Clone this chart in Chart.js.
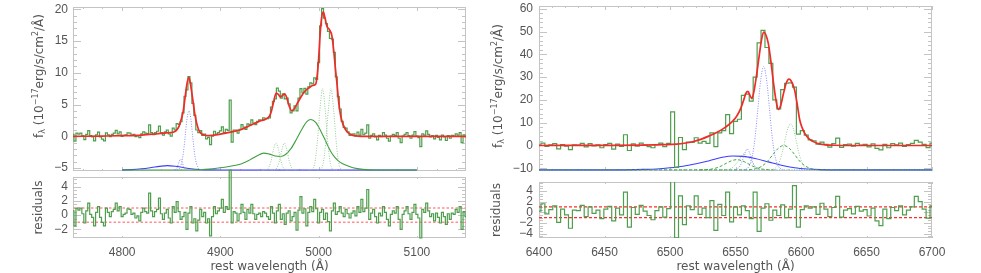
<!DOCTYPE html>
<html>
<head>
<meta charset="utf-8">
<script src="https://cdn.jsdelivr.net/npm/chart.js@4.4.1/dist/chart.umd.min.js"></script>
<style>
  html, body { margin: 0; padding: 0; background: #fff; }
  #wrap { position: relative; width: 981px; height: 273px; overflow: hidden; }
  canvas { position: absolute; }
</style>
</head>
<body>
<div id="wrap">
  <canvas id="hbFluxChart" width="490" height="175" style="left:0;top:0"></canvas>
  <canvas id="haFluxChart" width="491" height="175" style="left:490px;top:0"></canvas>
  <canvas id="hbResidChart" width="490" height="108" style="left:0;top:165px"></canvas>
  <canvas id="haResidChart" width="491" height="108" style="left:490px;top:165px"></canvas>
</div>
<script>
// ---- axis ranges and tick labels ----
const hbWaveRange = [4750, 5150];
const haWaveRange = [6400, 6700];
const hbFluxRange = [-5.45, 20.35];
const haFluxRange = [-11.2, 61.2];
const hbResidRange = [-3.2, 5.35];
const haResidRange = [-4.83, 5.69];
const hbWaveTicks = [4800, 4900, 5000, 5100];
const haWaveTicks = [6400, 6450, 6500, 6550, 6600, 6650, 6700];
const hbFluxTicks = [-5, 0, 5, 10, 15, 20];
const haFluxTicks = [-10, 0, 10, 20, 30, 40, 50, 60];
const hbResidTicks = [-2, 0, 2, 4];
const haResidTicks = [-4, -2, 0, 2, 4];
const residLevels = [1, -1];

// ---- observed spectra (histogram bins) ----
const hbWaveStart = 4750, hbWaveStep = 2;
const hbFlux = [
  0.3, -0.75, 0.5, 0.35, 0.5, 0.1, -0.5, 0.3, 0.9, 0.1,
  -0.1, -0.7, 0.25, 0.65, -0.1, -0.45, -0.7, 0.55, 0.25, -0.05,
  0.3, 0.5, 0.95, 0.4, 0.7, 0.0, 0.15, 0.25, 0.55, 0.5,
  0.2, 0.3, -0.05, 0.1, -0.2, 0.4, 0.7, 0.5, 0.45, 1.8,
  0.6, 0.25, 0.6, 0.8, 1.6, 0.6, 0.2, 0.7, 1.0, 0.4,
  0.05, 1.3, 1.0, 2.0, 1.9, 2.3, 3.7, 6.3, 7.3, 9.4,
  8.4, 5.2, 3.3, 1.0, 0.6, 0.9, 0.15, 0.35, -0.4, -0.15,
  -1.3, 0.05, 0.8, 0.35, 0.6, 0.85, 1.5, 0.6, 1.1, 0.95,
  5.7, -0.9, 1.0, 1.0, 0.5, 1.1, 1.85, 1.45, 1.1, 1.95,
  1.85, 2.6, 2.1, 1.85, 2.35, 2.6, 2.5, 2.9, 2.85, 2.8,
  2.9, 4.6, 5.5, 5.9, 7.6, 7.1, 6.0, 6.7, 5.9, 6.0,
  5.1, 3.7, 4.0, 4.8, 4.0, 6.0, 7.5, 6.85, 7.55, 6.65,
  7.8, 8.4, 8.25, 9.2, 8.95, 11.6, 17.4, 20.1, 18.6, 17.75,
  16.5, 15.4, 15.3, 13.2, 9.35, 6.25, 4.3, 2.35, 1.4, 1.3,
  0.7, 0.15, 0.35, 0.4, 0.05, 0.65, 0.2, 1.1, 0.25, 0.5,
  1.8, -0.3, 0.15, 0.4, -0.1, -0.55, 0.15, -0.05, 0.6, 0.2,
  -0.3, -0.75, 0.05, 0.3, 0.15, 0.6, -0.3, -1.0, 0.05, 0.3,
  0.6, 0.1, -0.3, 0.2, 0.75, 0.05, -0.2, -1.6, 0.4, 0.2,
  0.85, 0.3, -0.1, 0.1, -0.4, 0.15, -0.15, -0.55, 0.2, -0.1,
  -0.65, 0.1, -0.3, 0.15, 0.05, 0.4, 0.2, 0.6, -1.0, 0.25,
  -0.1
];
const hbResid = [
  0.6, -1.5, 1.0, 0.7, 1.0, 0.2, -1.1, 0.6, 1.7, 0.1,
  -0.3, -1.5, 0.4, 1.2, -0.3, -1.0, -1.5, 1.0, 0.4, -0.2,
  0.5, 0.8, 1.7, 0.6, 1.2, -0.2, 0.1, 0.3, 0.9, 0.8,
  0.1, 0.3, -0.4, -0.1, -0.8, 0.4, 1.0, 0.5, 0.3, 3.1,
  0.6, -0.2, 0.5, 0.8, 2.4, 0.2, -0.6, 0.3, 0.8, -0.4,
  -1.1, 1.2, 0.4, 1.9, 0.5, -0.6, -0.2, 0.4, -2.0, 0.3,
  1.2, -1.1, -0.5, -2.2, -0.7, 0.8, -0.2, 0.4, -1.1, -0.5,
  -2.9, -0.2, 1.2, 0.2, 0.6, 1.0, 2.2, 0.4, 1.2, 0.8,
  6.3, -1.1, 0.5, 0.3, -0.8, 0.2, 1.5, 0.4, -0.6, 0.8,
  0.3, 1.5, 0.2, -0.6, 0.1, 0.3, -0.2, 0.5, 0.3, -0.2,
  -0.6, 1.2, 0.3, -1.1, 0.6, 1.5, -0.6, 0.2, -1.3, 0.3,
  0.6, -0.8, -0.2, 0.4, -2.1, 0.7, 2.6, 0.3, 0.9, -1.5,
  0.4, 1.2, 0.5, 2.2, 0.9, -1.1, 0.4, 0.8, -0.6, 0.3,
  -0.9, -2.2, 0.6, 1.7, 0.1, 0.5, 1.2, 0.3, -0.2, 0.8,
  0.2, -0.4, 0.3, 0.6, -0.1, 1.2, 0.4, 2.2, 0.5, 1.0,
  3.6, -0.6, 0.3, 0.8, -0.2, -1.1, 0.3, -0.1, 1.2, 0.4,
  -0.6, -1.5, 0.1, 0.6, 0.3, 1.2, -0.6, -2.0, 0.1, 0.6,
  1.2, 0.2, -0.6, 0.4, 1.5, 0.1, -0.4, -3.2, 0.8, 0.4,
  1.7, 0.6, -0.2, 0.2, -0.8, 0.3, -0.3, -1.1, 0.4, -0.2,
  -1.3, 0.2, -0.6, 0.3, 0.1, 0.8, 0.4, 1.2, -2.0, 0.5,
  -0.2
];

const haWaveStart = 6400, haWaveStep = 3;
const haFlux = [
  0.2, 1.0, -0.4, 0.3, 0.8, -1.5, 0.4, -0.3, -1.8, 0.3,
  0.2, 0.9, -0.6, 0.8, -0.2, 0.3, -1.0, 0.4, 0.9, -1.6,
  0.6, -0.4, 4.7, -2.2, 0.7, -0.3, 1.0, 0.2, -0.5, -1.0,
  0.4, 1.0, -0.5, 0.9, 14.7, -9.6, 3.5, -1.8, 1.5, 1.4,
  3.4, 1.0, 1.8, 0.9, 5.5, -0.5, 5.5, 6.5, 13.5, 5.2,
  10.6, 11.5, 22.0, 22.5, 19.5, 30.0, 45.0, 50.5, 43.0, 36.0,
  20.0, 16.0, 24.5, 27.3, 27.5, 25.6, 5.0, 6.5, 4.5, 2.5,
  2.0, 0.6, 1.5, 0.5, -0.7, 0.8, 3.2, -0.8, 0.4, 0.6,
  -0.3, 0.9, 0.2, 0.5, -0.6, 0.7, -1.3, -1.9, 0.5, -1.0,
  0.8, 0.3, 1.0, -0.4, 0.4, 0.9, 2.2, 1.5, 0.5, -0.9,
  1.0
];
const haResid = [
  0.2, 1.6, -0.3, 0.5, 1.2, -1.9, 0.6, -0.5, -3.0, 0.4,
  0.3, 1.3, -0.8, 1.0, -0.2, 0.4, -1.2, 0.6, 1.1, -1.6,
  0.8, -0.5, 3.8, -2.8, 0.9, -0.4, 1.3, 0.2, -0.6, -1.4,
  0.3, 1.0, -0.9, 0.7, 6.0, -4.8, 3.1, -2.3, 1.2, 0.5,
  3.1, -0.4, 0.8, -1.0, 2.2, -3.4, 1.5, -0.6, 3.8, -1.8,
  1.0, -0.5, 1.2, 0.3, -1.2, 3.8, -3.6, 0.8, 1.6, -1.5,
  0.4, -0.6, 1.4, -1.0, 0.6, 5.0, -2.8, 0.5, 1.2, 0.8,
  1.0, -0.4, 1.7, 0.6, -0.8, 0.9, 3.0, -0.9, 0.4, 0.7,
  -0.3, 1.1, 0.2, 0.5, -0.7, 0.8, -1.6, -2.5, 0.6, -1.2,
  0.9, 0.3, 1.2, -0.5, 0.4, 1.0, 3.0, 2.0, 0.6, -1.1,
  1.2
];

// ---- total model (red) ----
const hbModelWave = [4750, 4780, 4800, 4820, 4835, 4845, 4852, 4855, 4858, 4860, 4862, 4864, 4866, 4868, 4870, 4872, 4874, 4876, 4878, 4880, 4883, 4888, 4900, 4913, 4920, 4930, 4940, 4946, 4950, 4952, 4954, 4956.8, 4959, 4961, 4963, 4965.5, 4967.5, 4969.5, 4972.5, 4975, 4978, 4982, 4986, 4990, 4994, 4997, 4998.5, 5000, 5001.5, 5003, 5004.8, 5006.5, 5008.5, 5011, 5013.5, 5015.5, 5017, 5019, 5020.5, 5022.5, 5025, 5028.5, 5033, 5040, 5060, 5150];
const hbModelFlux = [0, 0.05, 0.1, 0.2, 0.4, 0.55, 0.65, 0.9, 1.6, 2.6, 3.8, 6.0, 8.3, 9.3, 7.8, 5.7, 3.5, 2.0, 1.0, 0.5, 0.22, 0.1, 0.35, 0.75, 1.0, 1.7, 2.4, 2.7, 3.2, 4.0, 5.3, 6.8, 6.6, 6.2, 6.4, 6.7, 6.1, 5.0, 4.05, 4.3, 5.1, 6.2, 7.1, 7.6, 8.0, 8.2, 9.5, 12.2, 16.0, 18.6, 19.6, 18.6, 17.3, 16.8, 15.8, 13.3, 10.8, 7.8, 5.3, 3.2, 1.8, 0.8, 0.25, 0.05, 0, 0];

const haModelWave = [6400, 6450, 6480, 6495, 6505, 6512, 6518, 6524, 6530, 6536, 6541, 6545, 6548, 6551, 6554, 6556, 6558, 6559.5, 6561, 6562.5, 6564, 6566, 6568, 6570, 6571.5, 6573, 6575, 6577, 6579, 6581, 6582.7, 6584.5, 6586.5, 6588.5, 6590.8, 6592.5, 6595, 6597, 6599, 6601, 6603, 6606, 6609, 6613, 6618, 6625, 6640, 6700];
const haModelFlux = [0, 0.05, 0.15, 0.35, 0.6, 1.1, 1.75, 2.8, 4.2, 5.8, 7.5, 9.2, 10.8, 12.9, 16.3, 19.5, 23.0, 23.7, 22.0, 20.6, 23.5, 30.5, 39.0, 46.8, 49.8, 48.8, 44.9, 37.0, 27.5, 19.5, 15.8, 17.5, 22.5, 27.0, 29.1, 28.3, 24.6, 18.5, 11.3, 7.6, 5.2, 3.0, 1.8, 0.8, 0.3, 0.1, 0, 0];

// ---- Hbeta / [OIII] components (drawn shifted to the panel floor) ----
const hbCompOffset = -5.3;
const hbBroadWave = [4800, 4810, 4820, 4830, 4838, 4846, 4854, 4862, 4870, 4880, 4890, 4900, 5100];
const hbBroadFlux = [0.02, 0.07, 0.2, 0.4, 0.58, 0.7, 0.6, 0.4, 0.2, 0.07, 0.02, 0, 0];
const hbNarrowWave = [4853, 4856, 4859, 4862, 4864, 4866, 4868, 4870, 4872, 4874, 4877, 4880, 4883];
const hbNarrowFlux = [0, 0.04, 0.41, 2.3, 5.0, 8.0, 9.3, 8.0, 5.0, 2.3, 0.41, 0.04, 0];
const hbNarrow2Wave = [4854, 4856, 4858, 4859.5, 4861, 4863, 4865];
const hbNarrow2Flux = [0, 0.37, 1.3, 1.7, 1.3, 0.37, 0];
const oiiiWingWave = [4800, 4870, 4885, 4900, 4910, 4920, 4930, 4938, 4944, 4950, 4956, 4961, 4966, 4972, 4978, 4984, 4988, 4992, 4997, 5002, 5007, 5012, 5017, 5022, 5028, 5035, 5045, 5060, 5100];
const oiiiWingFlux = [0, 0, 0.1, 0.35, 0.6, 0.9, 1.6, 2.3, 2.66, 2.5, 2.2, 2.13, 2.4, 3.4, 5.0, 6.7, 7.6, 7.95, 7.5, 6.2, 4.6, 3.0, 1.9, 1.2, 0.75, 0.35, 0.1, 0, 0];
const oiii4959aWave = [4943, 4946, 4949, 4951.5, 4954, 4956.6, 4959.2, 4961.7, 4964.2, 4967.2, 4970];
const oiii4959aFlux = [0, 0.03, 0.34, 1.37, 3.2, 4.25, 3.2, 1.37, 0.34, 0.03, 0];
const oiii4959bWave = [4952, 4955, 4957.5, 4960, 4962.6, 4965.1, 4967.6, 4970.2, 4972.7, 4975.2, 4978];
const oiii4959bFlux = [0, 0.05, 0.34, 1.37, 3.2, 4.25, 3.2, 1.37, 0.34, 0.05, 0];
const oiii5007aWave = [4990, 4993, 4996, 4998.5, 5001.4, 5004, 5006.6, 5009.5, 5012, 5015, 5018];
const oiii5007aFlux = [0, 0.1, 1.0, 4.1, 9.6, 12.8, 9.6, 4.1, 1.0, 0.1, 0];
const oiii5007bWave = [4998.6, 5001.6, 5004.6, 5007.1, 5010, 5012.6, 5015.2, 5018.1, 5020.6, 5023.6, 5026.6];
const oiii5007bFlux = [0, 0.1, 1.0, 4.1, 9.6, 12.8, 9.6, 4.1, 1.0, 0.1, 0];

// ---- Halpha / [NII] components ----
const haCompOffset = -10.7;
const haContWave = [6400, 6700];
const haContFlux = [0, 0];
const haBroadWave = [6400, 6460, 6480, 6490, 6500, 6510, 6520, 6530, 6540, 6548, 6556, 6565, 6575, 6585, 6595, 6605, 6615, 6630, 6700];
const haBroadFlux = [0, 0, 0.2, 0.4, 0.9, 1.6, 2.7, 4.0, 5.5, 6.1, 5.9, 5.0, 3.5, 2.0, 0.9, 0.35, 0.1, 0, 0];
const haNarrowWave = [6556, 6560, 6563, 6565, 6567, 6569, 6571.5, 6574, 6576, 6578, 6580, 6583, 6587];
const haNarrowFlux = [0, 1.3, 6.5, 14.5, 26.3, 38.3, 45.4, 38.3, 26.3, 14.5, 6.5, 1.3, 0];
const haNarrow2Wave = [6550, 6553, 6555, 6557, 6559, 6561, 6563, 6565, 6568];
const haNarrow2Flux = [0, 1.3, 3.7, 7.2, 9.1, 7.2, 3.7, 1.3, 0];
const nii6583Wave = [6577, 6580, 6583, 6586, 6588, 6590, 6592, 6594, 6596, 6598, 6601, 6604, 6607];
const nii6583Flux = [0, 0.6, 2.8, 8.3, 13.6, 18.3, 20.2, 18.3, 13.6, 8.3, 2.8, 0.6, 0];
const nii6548Wave = [6542, 6545, 6548, 6551, 6553, 6555, 6557, 6559, 6561, 6564, 6567, 6571];
const nii6548Flux = [0, 0.25, 1.1, 3.0, 4.6, 6.5, 7.0, 6.0, 4.6, 2.1, 0.6, 0];
const nii6583WingWave = [6400, 6558, 6562, 6566, 6570, 6574, 6578, 6582, 6586.8, 6591, 6595, 6599, 6603, 6607, 6612, 6616, 6700];
const nii6583WingFlux = [0, 0, 0.15, 0.55, 1.55, 3.5, 6.3, 9.1, 10.7, 9.5, 6.8, 3.8, 1.8, 0.65, 0.1, 0, 0];
const nii6548WingWave = [6523, 6527, 6531, 6535, 6539, 6543, 6547, 6551, 6555, 6559, 6563, 6567, 6571, 6575, 6579];
const nii6548WingFlux = [0, 0.1, 0.28, 0.77, 1.66, 2.9, 4.0, 4.5, 4.0, 2.9, 1.66, 0.77, 0.28, 0.1, 0];

// ---- helpers ----
const TXT = '#555555';
const TICK_FONT = { family: '"Liberation Sans", Arial, sans-serif', size: 12 };
const TITLE_FAMILY = '"DejaVu Sans", sans-serif';

function xy(wave, vals, off) {
  return wave.map((w, i) => ({ x: w, y: vals[i] + (off || 0) }));
}
function bins(start, step, vals) {
  return vals.map((v, i) => ({ x: start + i * step, y: v }));
}
function flat(range, level) {
  return [{ x: range[0], y: level }, { x: range[1], y: level }];
}
function line(data, color, width, extra) {
  return Object.assign({ data, borderColor: color, borderWidth: width, pointRadius: 0, fill: false, tension: 0 }, extra || {});
}
function fmtTick(v) {
  return v < 0 ? '\u2212' + Math.abs(v) : String(v);
}

const smooth = { cubicInterpolationMode: 'monotone' };
const dotted = { borderDash: [1, 1.5], cubicInterpolationMode: 'monotone' };
const dashed = { borderDash: [3, 2], cubicInterpolationMode: 'monotone' };
const hist = { stepped: 'middle' };

function drawRuns(ctx, runs, cx, cy, rotate) {
  ctx.save();
  ctx.translate(cx, cy);
  if (rotate) ctx.rotate(-Math.PI / 2);
  let total = 0;
  runs.forEach(r => {
    ctx.font = (r.size || 12) + 'px ' + TITLE_FAMILY;
    r.w = ctx.measureText(r.t).width;
    total += r.w;
  });
  let x = -total / 2;
  ctx.fillStyle = TXT;
  ctx.textBaseline = 'middle';
  runs.forEach(r => {
    ctx.font = (r.size || 12) + 'px ' + TITLE_FAMILY;
    ctx.fillText(r.t, x, r.dy || 0);
    x += r.w;
  });
  ctx.restore();
}

// IDL-like box with inward ticks on all four sides
const idlFrame = {
  id: 'idlFrame',
  beforeDatasetsDraw(chart, args, o) {
    const { ctx, chartArea: a, scales } = chart;
    const sx = scales.x, sy = scales.y;
    ctx.save();
    ctx.strokeStyle = '#c4c4c4';
    ctx.lineWidth = 1;
    ctx.strokeRect(a.left + 0.5, a.top + 0.5, a.width - 1, a.height - 1);
    ctx.beginPath();
    const vTick = (v, len) => {
      const p = Math.round(sx.getPixelForValue(v)) + 0.5;
      ctx.moveTo(p, a.bottom); ctx.lineTo(p, a.bottom - len);
      ctx.moveTo(p, a.top); ctx.lineTo(p, a.top + len);
    };
    const hTick = (v, len) => {
      const p = Math.round(sy.getPixelForValue(v)) + 0.5;
      ctx.moveTo(a.left, p); ctx.lineTo(a.left + len, p);
      ctx.moveTo(a.right, p); ctx.lineTo(a.right - len, p);
    };
    for (let v = Math.ceil(sx.min / o.xMinor) * o.xMinor; v <= sx.max; v += o.xMinor) vTick(v, o.xLen / 2);
    for (let v = Math.ceil(sy.min / o.yMinor) * o.yMinor; v <= sy.max + 1e-9; v += o.yMinor) hTick(v, o.yLen / 2);
    o.xMajor.forEach(v => vTick(v, o.xLen));
    o.yMajor.forEach(v => hTick(v, o.yLen));
    ctx.stroke();
    ctx.restore();
  }
};

const idlTitles = {
  id: 'idlTitles',
  afterDraw(chart, args, o) {
    const { ctx, chartArea: a } = chart;
    if (o.y) drawRuns(ctx, o.y.runs, o.y.x, o.y.cy != null ? o.y.cy : (a.top + a.bottom) / 2, true);
    if (o.x) drawRuns(ctx, [{ t: o.x.text }], (a.left + a.right) / 2, o.x.y, false);
  }
};

function makePanel(id, p) {
  return new Chart(document.getElementById(id), {
    type: 'line',
    data: { datasets: p.datasets },
    options: {
      responsive: false,
      animation: false,
      events: [],
      layout: { autoPadding: false, padding: p.pad },
      plugins: {
        legend: { display: false },
        tooltip: { enabled: false },
        idlFrame: { xMajor: p.xTicks, yMajor: p.yTicks, xMinor: p.xMinor, yMinor: p.yMinor, xLen: p.xLen, yLen: 8 },
        idlTitles: { y: p.yTitle, x: p.xTitle }
      },
      scales: {
        x: {
          type: 'linear', min: p.xRange[0], max: p.xRange[1], display: p.showX,
          grid: { display: false, drawTicks: false }, border: { display: false },
          ticks: { font: TICK_FONT, color: TXT, padding: 7, maxRotation: 0, autoSkip: false, callback: fmtTick },
          afterBuildTicks: s => { s.ticks = p.xTicks.map(v => ({ value: v })); },
          afterFit: s => { s.height = p.showX ? 35 : 0; s.paddingLeft = 0; s.paddingRight = 0; }
        },
        y: {
          type: 'linear', min: p.yRange[0], max: p.yRange[1],
          grid: { display: false, drawTicks: false }, border: { display: false },
          ticks: { font: TICK_FONT, color: TXT, padding: p.yPad, autoSkip: false, callback: fmtTick },
          afterBuildTicks: s => { s.ticks = p.yTicks.map(v => ({ value: v })); },
          afterFit: s => { s.width = p.yWidth; s.paddingTop = 0; s.paddingBottom = 0; }
        }
      }
    },
    plugins: [idlFrame, idlTitles]
  });
}

const fluxTitle = [
  { t: 'f' }, { t: '\u03bb', size: 8, dy: 3 }, { t: ' (10' }, { t: '\u221217', size: 8, dy: -4 },
  { t: 'erg/s/cm' }, { t: '2', size: 8, dy: -4 }, { t: '/\u00c5)' }
];
const residTitle = [{ t: 'residuals' }];
const waveTitle = 'rest wavelength (\u00c5)';

const GREEN = '#4e9e4e';
const RED = '#f22a2a';

// ---- H-beta / [OIII] panel ----
makePanel('hbFluxChart', {
  pad: { left: 0, right: 24, top: 7, bottom: 4 },
  xRange: hbWaveRange, yRange: hbFluxRange, xTicks: hbWaveTicks, yTicks: hbFluxTicks,
  xMinor: 20, yMinor: 1, xLen: 4, yWidth: 73, yPad: 5, showX: false,
  yTitle: { runs: fluxTitle, x: 40, cy: 76 },
  datasets: [
    line(xy(hbModelWave, hbModelFlux), RED, 1.7, smooth),
    line(bins(hbWaveStart, hbWaveStep, hbFlux), GREEN, 1.2, hist),
    line(xy(oiii5007aWave, oiii5007aFlux, hbCompOffset), '#93cc93', 1, dotted),
    line(xy(oiii5007bWave, oiii5007bFlux, hbCompOffset), '#93cc93', 1, dotted),
    line(xy(oiii4959aWave, oiii4959aFlux, hbCompOffset), '#93cc93', 1, dotted),
    line(xy(oiii4959bWave, oiii4959bFlux, hbCompOffset), '#93cc93', 1, dotted),
    line(xy(hbNarrowWave, hbNarrowFlux, hbCompOffset), '#8a8aff', 1, dotted),
    line(xy(hbNarrow2Wave, hbNarrow2Flux, hbCompOffset), '#8a8aff', 1, dotted),
    line(xy(oiiiWingWave, oiiiWingFlux, hbCompOffset), '#3f9f3f', 1.1, smooth),
    line(xy(hbBroadWave, hbBroadFlux, hbCompOffset), '#3c3cff', 1.1, smooth)
  ]
});

makePanel('hbResidChart', {
  pad: { left: 0, right: 24, top: 12, bottom: 0 },
  xRange: hbWaveRange, yRange: hbResidRange, xTicks: hbWaveTicks, yTicks: hbResidTicks,
  xMinor: 20, yMinor: 0.5, xLen: 2, yWidth: 73, yPad: 5, showX: true,
  yTitle: { runs: residTitle, x: 39 },
  xTitle: { text: waveTitle, y: 102 },
  datasets: [
    line(bins(hbWaveStart, hbWaveStep, hbResid), GREEN, 1.2, Object.assign({ clip: false }, hist)),
    line(flat(hbWaveRange, residLevels[0]), '#ff8f8f', 1.6, { borderDash: [2.5, 2] }),
    line(flat(hbWaveRange, residLevels[1]), '#ff8f8f', 1.6, { borderDash: [2.5, 2] })
  ]
});

// ---- H-alpha / [NII] panel ----
makePanel('haFluxChart', {
  pad: { left: 0, right: 49, top: 6, bottom: 4 },
  xRange: haWaveRange, yRange: haFluxRange, xTicks: haWaveTicks, yTicks: haFluxTicks,
  xMinor: 10, yMinor: 2, xLen: 4, yWidth: 49, yPad: 6, showX: false,
  yTitle: { runs: fluxTitle, x: 9, cy: 86 },
  datasets: [
    line(xy(haModelWave, haModelFlux), RED, 1.7, smooth),
    line(bins(haWaveStart, haWaveStep, haFlux), GREEN, 1.2, hist),
    line(xy(haNarrowWave, haNarrowFlux, haCompOffset), '#8a8aff', 1, dotted),
    line(xy(haNarrow2Wave, haNarrow2Flux, haCompOffset), '#8a8aff', 1, dotted),
    line(xy(nii6583Wave, nii6583Flux, haCompOffset), '#93cc93', 1, dotted),
    line(xy(nii6548Wave, nii6548Flux, haCompOffset), '#93cc93', 1, dotted),
    line(xy(nii6583WingWave, nii6583WingFlux, haCompOffset), '#46a646', 1, dashed),
    line(xy(nii6548WingWave, nii6548WingFlux, haCompOffset), '#46a646', 1, dashed),
    line(xy(haBroadWave, haBroadFlux, haCompOffset), '#3c3cff', 1.1, smooth),
    line(xy(haContWave, haContFlux, haCompOffset), '#5fc4c4', 1, { borderDash: [1, 1.5] })
  ]
});

makePanel('haResidChart', {
  pad: { left: 0, right: 49, top: 17, bottom: 0 },
  xRange: haWaveRange, yRange: haResidRange, xTicks: haWaveTicks, yTicks: haResidTicks,
  xMinor: 10, yMinor: 0.5, xLen: 2, yWidth: 49, yPad: 6, showX: true,
  yTitle: { runs: residTitle, x: 7 },
  xTitle: { text: waveTitle, y: 102 },
  datasets: [
    line(bins(haWaveStart, haWaveStep, haResid), GREEN, 1.2, hist),
    line(flat(haWaveRange, residLevels[0]), '#ff2a2a', 1.3, { borderDash: [3, 2] }),
    line(flat(haWaveRange, residLevels[1]), '#ff2a2a', 1.3, { borderDash: [3, 2] })
  ]
});
</script>
</body>
</html>
